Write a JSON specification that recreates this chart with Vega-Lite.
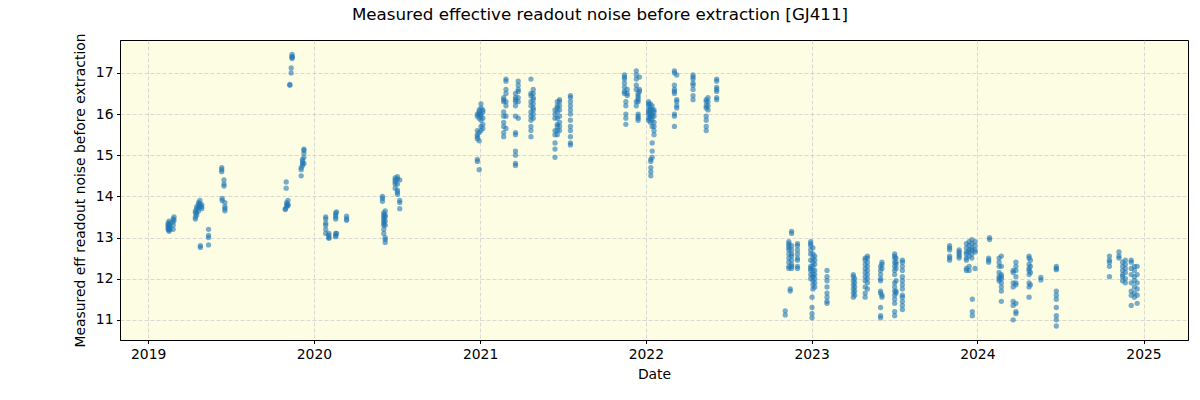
{
"$schema": "https://vega.github.io/schema/vega-lite/v6.json",
"width": 1068, "height": 300,
"autosize": {"type": "none"},
"padding": {"left": 120, "top": 40, "right": 12, "bottom": 60},
"background": "white",
"title": {"text": "Measured effective readout noise before extraction [GJ411]", "font": "DejaVu Sans", "fontSize": 16.7, "fontWeight": "normal", "color": "black", "anchor": "middle", "dx": -54, "offset": 9},
"config": {
 "view": {"fill": "#fdfde3", "stroke": "black", "strokeWidth": 1},
 "axis": {"labelFont": "DejaVu Sans", "labelFontSize": 13.9, "labelColor": "black", "titleFont": "DejaVu Sans", "titleFontSize": 13.9, "titleFontWeight": "normal", "titleColor": "black", "tickColor": "black", "tickSize": 3.5, "labelPadding": 3.5, "domainColor": "black", "gridColor": "#b0b0c0", "gridDash": [4, 2], "gridOpacity": 0.6, "gridWidth": 0.8}
},
"data": {"values": [
{"date":"2019-02-14","noise":13.35},{"date":"2019-02-14","noise":13.3},{"date":"2019-02-14","noise":13.25},{"date":"2019-02-14","noise":13.2},
{"date":"2019-02-16","noise":13.4},{"date":"2019-02-16","noise":13.3},{"date":"2019-02-16","noise":13.22},{"date":"2019-02-16","noise":13.18},{"date":"2019-02-16","noise":13.15},
{"date":"2019-02-18","noise":13.35},{"date":"2019-02-18","noise":13.28},{"date":"2019-02-18","noise":13.2},
{"date":"2019-02-25","noise":13.45},{"date":"2019-02-25","noise":13.38},{"date":"2019-02-25","noise":13.3},{"date":"2019-02-25","noise":13.2},
{"date":"2019-02-27","noise":13.5},{"date":"2019-02-27","noise":13.42},
{"date":"2019-04-15","noise":13.65},{"date":"2019-04-15","noise":13.6},{"date":"2019-04-15","noise":13.5},{"date":"2019-04-15","noise":13.45},
{"date":"2019-04-18","noise":13.75},{"date":"2019-04-18","noise":13.7},{"date":"2019-04-18","noise":13.6},{"date":"2019-04-18","noise":13.55},
{"date":"2019-04-22","noise":13.85},{"date":"2019-04-22","noise":13.8},{"date":"2019-04-22","noise":13.72},{"date":"2019-04-22","noise":13.65},
{"date":"2019-04-25","noise":13.9},{"date":"2019-04-25","noise":13.82},{"date":"2019-04-25","noise":13.75},
{"date":"2019-04-29","noise":13.8},{"date":"2019-04-29","noise":13.75},{"date":"2019-04-29","noise":13.7},
{"date":"2019-04-26","noise":12.8},{"date":"2019-04-26","noise":12.76},
{"date":"2019-05-14","noise":13.2},{"date":"2019-05-14","noise":13.05},{"date":"2019-05-14","noise":13.0},{"date":"2019-05-14","noise":12.82},
{"date":"2019-06-12","noise":14.7},{"date":"2019-06-12","noise":14.65},{"date":"2019-06-12","noise":14.6},
{"date":"2019-06-17","noise":14.4},{"date":"2019-06-17","noise":14.3},{"date":"2019-06-17","noise":14.25},
{"date":"2019-06-13","noise":13.95},{"date":"2019-06-13","noise":13.9},
{"date":"2019-06-19","noise":13.85},{"date":"2019-06-19","noise":13.75},{"date":"2019-06-19","noise":13.7},{"date":"2019-06-19","noise":13.65},
{"date":"2019-10-30","noise":13.7},{"date":"2019-10-30","noise":13.68},
{"date":"2019-11-02","noise":13.85},{"date":"2019-11-02","noise":13.8},{"date":"2019-11-02","noise":13.75},{"date":"2019-11-01","noise":14.2},{"date":"2019-11-01","noise":14.35},
{"date":"2019-11-05","noise":13.9},{"date":"2019-11-05","noise":13.8},{"date":"2019-11-05","noise":13.78},
{"date":"2019-11-09","noise":16.72},{"date":"2019-11-09","noise":16.7},
{"date":"2019-11-12","noise":17.0},{"date":"2019-11-12","noise":17.12},
{"date":"2019-11-14","noise":17.35},{"date":"2019-11-14","noise":17.4},{"date":"2019-11-14","noise":17.45},{"date":"2019-11-14","noise":17.38},
{"date":"2019-12-04","noise":14.5},{"date":"2019-12-04","noise":14.65},{"date":"2019-12-04","noise":14.7},
{"date":"2019-12-07","noise":14.75},{"date":"2019-12-07","noise":14.8},{"date":"2019-12-07","noise":14.9},{"date":"2019-12-07","noise":14.85},
{"date":"2019-12-10","noise":14.95},{"date":"2019-12-10","noise":15.05},{"date":"2019-12-10","noise":15.15},{"date":"2019-12-10","noise":15.12},{"date":"2019-12-10","noise":14.8},
{"date":"2020-01-27","noise":13.5},{"date":"2020-01-27","noise":13.45},{"date":"2020-01-27","noise":13.35},{"date":"2020-01-27","noise":13.3},{"date":"2020-01-27","noise":13.2},{"date":"2020-01-27","noise":13.1},
{"date":"2020-02-03","noise":13.1},{"date":"2020-02-03","noise":13.05},{"date":"2020-02-03","noise":13.0},{"date":"2020-02-03","noise":12.98},
{"date":"2020-02-18","noise":13.6},{"date":"2020-02-18","noise":13.55},{"date":"2020-02-18","noise":13.5},{"date":"2020-02-18","noise":13.45},{"date":"2020-02-18","noise":13.1},{"date":"2020-02-18","noise":13.05},{"date":"2020-02-18","noise":13.02},
{"date":"2020-02-20","noise":13.62},{"date":"2020-02-20","noise":13.1},
{"date":"2020-03-13","noise":13.52},{"date":"2020-03-13","noise":13.45},{"date":"2020-03-13","noise":13.42},
{"date":"2020-05-31","noise":14.0},{"date":"2020-05-31","noise":13.95},{"date":"2020-05-31","noise":13.88},
{"date":"2020-06-03","noise":13.6},{"date":"2020-06-03","noise":13.55},{"date":"2020-06-03","noise":13.5},{"date":"2020-06-03","noise":13.45},{"date":"2020-06-03","noise":13.4},{"date":"2020-06-03","noise":13.35},{"date":"2020-06-03","noise":13.3},{"date":"2020-06-03","noise":13.2},{"date":"2020-06-03","noise":13.1},
{"date":"2020-06-06","noise":13.65},{"date":"2020-06-06","noise":13.55},{"date":"2020-06-06","noise":13.5},{"date":"2020-06-06","noise":13.4},{"date":"2020-06-06","noise":13.3},{"date":"2020-06-06","noise":13.0},{"date":"2020-06-06","noise":12.95},{"date":"2020-06-06","noise":12.88},
{"date":"2020-06-28","noise":14.45},{"date":"2020-06-28","noise":14.4},{"date":"2020-06-28","noise":14.35},{"date":"2020-06-28","noise":14.3},{"date":"2020-06-28","noise":14.2},
{"date":"2020-07-03","noise":14.48},{"date":"2020-07-03","noise":14.42},{"date":"2020-07-03","noise":14.3},{"date":"2020-07-03","noise":14.15},{"date":"2020-07-03","noise":14.1},{"date":"2020-07-03","noise":14.05},
{"date":"2020-07-08","noise":14.4},{"date":"2020-07-08","noise":13.9},{"date":"2020-07-08","noise":13.85},{"date":"2020-07-08","noise":13.7},
{"date":"2020-12-26","noise":16.0},{"date":"2020-12-26","noise":15.95},{"date":"2020-12-26","noise":15.6},{"date":"2020-12-26","noise":15.5},{"date":"2020-12-26","noise":15.45},{"date":"2020-12-26","noise":15.4},{"date":"2020-12-26","noise":14.9},{"date":"2020-12-26","noise":14.85},
{"date":"2020-12-30","noise":16.1},{"date":"2020-12-30","noise":16.05},{"date":"2020-12-30","noise":16.0},{"date":"2020-12-30","noise":15.9},{"date":"2020-12-30","noise":15.55},{"date":"2020-12-30","noise":15.35},{"date":"2020-12-30","noise":14.65},
{"date":"2021-01-03","noise":16.25},{"date":"2021-01-03","noise":16.15},{"date":"2021-01-03","noise":16.0},{"date":"2021-01-03","noise":15.95},{"date":"2021-01-03","noise":15.85},{"date":"2021-01-03","noise":15.7},{"date":"2021-01-03","noise":15.6},
{"date":"2021-01-07","noise":16.1},{"date":"2021-01-07","noise":16.05},{"date":"2021-01-07","noise":15.9},{"date":"2021-01-07","noise":15.75},{"date":"2021-01-07","noise":15.65},
{"date":"2021-02-22","noise":16.4},{"date":"2021-02-22","noise":16.35},{"date":"2021-02-22","noise":16.3},{"date":"2021-02-22","noise":16.05},{"date":"2021-02-22","noise":15.95},{"date":"2021-02-22","noise":15.8},{"date":"2021-02-22","noise":15.7},{"date":"2021-02-22","noise":15.55},{"date":"2021-02-22","noise":15.45},
{"date":"2021-02-27","noise":16.85},{"date":"2021-02-27","noise":16.8},{"date":"2021-02-27","noise":16.6},{"date":"2021-02-27","noise":16.5},{"date":"2021-02-27","noise":16.3},{"date":"2021-02-27","noise":16.2},{"date":"2021-02-27","noise":15.95},{"date":"2021-02-27","noise":15.65},
{"date":"2021-03-20","noise":16.5},{"date":"2021-03-20","noise":16.4},{"date":"2021-03-20","noise":16.35},{"date":"2021-03-20","noise":16.3},{"date":"2021-03-20","noise":16.2},{"date":"2021-03-20","noise":15.95},{"date":"2021-03-20","noise":15.55},{"date":"2021-03-20","noise":15.5},{"date":"2021-03-20","noise":15.1},{"date":"2021-03-20","noise":15.0},{"date":"2021-03-20","noise":14.8},{"date":"2021-03-20","noise":14.75},
{"date":"2021-03-26","noise":16.8},{"date":"2021-03-26","noise":16.7},{"date":"2021-03-26","noise":16.6},{"date":"2021-03-26","noise":16.55},{"date":"2021-03-26","noise":16.4},{"date":"2021-03-26","noise":16.3},{"date":"2021-03-26","noise":15.9},
{"date":"2021-04-23","noise":16.85},{"date":"2021-04-23","noise":16.5},{"date":"2021-04-23","noise":16.45},{"date":"2021-04-23","noise":16.3},{"date":"2021-04-23","noise":16.2},{"date":"2021-04-23","noise":16.05},{"date":"2021-04-23","noise":15.95},{"date":"2021-04-23","noise":15.85},{"date":"2021-04-23","noise":15.7},{"date":"2021-04-23","noise":15.6},{"date":"2021-04-23","noise":15.45},
{"date":"2021-04-28","noise":16.6},{"date":"2021-04-28","noise":16.5},{"date":"2021-04-28","noise":16.4},{"date":"2021-04-28","noise":16.35},{"date":"2021-04-28","noise":16.25},{"date":"2021-04-28","noise":16.15},{"date":"2021-04-28","noise":16.1},{"date":"2021-04-28","noise":16.0},{"date":"2021-04-28","noise":15.9},
{"date":"2021-06-15","noise":16.1},{"date":"2021-06-15","noise":16.0},{"date":"2021-06-15","noise":15.9},{"date":"2021-06-15","noise":15.6},{"date":"2021-06-15","noise":15.5},{"date":"2021-06-15","noise":15.3},{"date":"2021-06-15","noise":15.15},{"date":"2021-06-15","noise":14.95},
{"date":"2021-06-20","noise":16.3},{"date":"2021-06-20","noise":16.2},{"date":"2021-06-20","noise":16.15},{"date":"2021-06-20","noise":16.05},{"date":"2021-06-20","noise":15.9},{"date":"2021-06-20","noise":15.75},{"date":"2021-06-20","noise":15.7},{"date":"2021-06-20","noise":15.6},{"date":"2021-06-20","noise":15.5},
{"date":"2021-06-25","noise":16.35},{"date":"2021-06-25","noise":16.3},{"date":"2021-06-25","noise":16.2},{"date":"2021-06-25","noise":16.1},{"date":"2021-06-25","noise":15.95},{"date":"2021-06-25","noise":15.8},{"date":"2021-06-25","noise":15.7},{"date":"2021-06-25","noise":15.6},
{"date":"2021-07-19","noise":16.45},{"date":"2021-07-19","noise":16.4},{"date":"2021-07-19","noise":16.3},{"date":"2021-07-19","noise":16.2},{"date":"2021-07-19","noise":16.1},{"date":"2021-07-19","noise":16.0},{"date":"2021-07-19","noise":15.85},{"date":"2021-07-19","noise":15.7},{"date":"2021-07-19","noise":15.6},{"date":"2021-07-19","noise":15.45},{"date":"2021-07-19","noise":15.3},{"date":"2021-07-19","noise":15.25},
{"date":"2021-11-15","noise":16.95},{"date":"2021-11-15","noise":16.9},{"date":"2021-11-15","noise":16.85},{"date":"2021-11-15","noise":16.75},{"date":"2021-11-15","noise":16.65},{"date":"2021-11-15","noise":16.55},{"date":"2021-11-15","noise":16.5},
{"date":"2021-11-18","noise":16.3},{"date":"2021-11-18","noise":16.2},{"date":"2021-11-18","noise":16.0},{"date":"2021-11-18","noise":15.9},{"date":"2021-11-18","noise":15.75},
{"date":"2021-11-21","noise":16.6},{"date":"2021-11-21","noise":16.5},{"date":"2021-11-21","noise":16.45},
{"date":"2021-12-11","noise":17.05},{"date":"2021-12-11","noise":16.95},{"date":"2021-12-11","noise":16.85},{"date":"2021-12-11","noise":16.7},{"date":"2021-12-11","noise":16.6},{"date":"2021-12-11","noise":16.3},{"date":"2021-12-11","noise":16.2},
{"date":"2021-12-15","noise":16.5},{"date":"2021-12-15","noise":16.45},{"date":"2021-12-15","noise":16.4},{"date":"2021-12-15","noise":16.35},{"date":"2021-12-15","noise":16.3},{"date":"2021-12-15","noise":16.0},{"date":"2021-12-15","noise":15.95},{"date":"2021-12-15","noise":15.9},{"date":"2021-12-15","noise":15.85},
{"date":"2021-12-18","noise":16.9},{"date":"2021-12-18","noise":16.6},{"date":"2021-12-18","noise":16.55},
{"date":"2022-01-07","noise":16.3},{"date":"2022-01-07","noise":16.25},{"date":"2022-01-07","noise":16.2},{"date":"2022-01-07","noise":16.1},{"date":"2022-01-07","noise":16.05},{"date":"2022-01-07","noise":16.0},{"date":"2022-01-07","noise":15.9},{"date":"2022-01-07","noise":15.85},
{"date":"2022-01-11","noise":16.25},{"date":"2022-01-11","noise":16.15},{"date":"2022-01-11","noise":16.1},{"date":"2022-01-11","noise":16.0},{"date":"2022-01-11","noise":15.95},{"date":"2022-01-11","noise":15.9},{"date":"2022-01-11","noise":15.8},{"date":"2022-01-12","noise":14.9},{"date":"2022-01-12","noise":14.85},{"date":"2022-01-12","noise":14.7},{"date":"2022-01-12","noise":14.6},{"date":"2022-01-12","noise":14.5},
{"date":"2022-01-15","noise":16.2},{"date":"2022-01-15","noise":16.1},{"date":"2022-01-15","noise":16.0},{"date":"2022-01-15","noise":15.95},{"date":"2022-01-15","noise":15.85},{"date":"2022-01-15","noise":15.7},{"date":"2022-01-15","noise":15.3},{"date":"2022-01-15","noise":15.1},{"date":"2022-01-15","noise":14.95},
{"date":"2022-01-19","noise":16.1},{"date":"2022-01-19","noise":16.05},{"date":"2022-01-19","noise":15.95},{"date":"2022-01-19","noise":15.8},{"date":"2022-01-19","noise":15.7},{"date":"2022-01-19","noise":15.6},{"date":"2022-01-19","noise":15.5},
{"date":"2022-03-05","noise":17.05},{"date":"2022-03-05","noise":17.0},{"date":"2022-03-05","noise":16.7},{"date":"2022-03-05","noise":16.6},{"date":"2022-03-05","noise":16.55},{"date":"2022-03-05","noise":16.5},{"date":"2022-03-05","noise":16.0},{"date":"2022-03-05","noise":15.95},{"date":"2022-03-05","noise":15.7},
{"date":"2022-03-10","noise":16.95},{"date":"2022-03-10","noise":16.35},{"date":"2022-03-10","noise":16.3},{"date":"2022-03-10","noise":16.2},{"date":"2022-03-10","noise":16.15},
{"date":"2022-04-15","noise":16.95},{"date":"2022-04-15","noise":16.9},{"date":"2022-04-15","noise":16.85},{"date":"2022-04-15","noise":16.75},{"date":"2022-04-15","noise":16.7},{"date":"2022-04-15","noise":16.6},{"date":"2022-04-15","noise":16.45},{"date":"2022-04-15","noise":16.35},
{"date":"2022-05-14","noise":16.35},{"date":"2022-05-14","noise":16.3},{"date":"2022-05-14","noise":16.2},{"date":"2022-05-14","noise":16.15},{"date":"2022-05-14","noise":15.95},{"date":"2022-05-14","noise":15.85},{"date":"2022-05-14","noise":15.7},{"date":"2022-05-14","noise":15.6},
{"date":"2022-05-18","noise":16.4},{"date":"2022-05-18","noise":16.3},{"date":"2022-05-18","noise":16.2},{"date":"2022-05-18","noise":16.1},
{"date":"2022-06-06","noise":16.85},{"date":"2022-06-06","noise":16.8},{"date":"2022-06-06","noise":16.65},{"date":"2022-06-06","noise":16.6},{"date":"2022-06-06","noise":16.55},{"date":"2022-06-06","noise":16.4},{"date":"2022-06-06","noise":16.35},
{"date":"2022-11-04","noise":11.22},{"date":"2022-11-04","noise":11.12},
{"date":"2022-11-12","noise":12.9},{"date":"2022-11-12","noise":12.85},{"date":"2022-11-12","noise":12.8},{"date":"2022-11-12","noise":12.75},{"date":"2022-11-12","noise":12.7},{"date":"2022-11-12","noise":12.6},{"date":"2022-11-12","noise":12.5},{"date":"2022-11-12","noise":12.4},{"date":"2022-11-12","noise":12.3},{"date":"2022-11-12","noise":12.25},{"date":"2022-11-15","noise":11.75},{"date":"2022-11-15","noise":11.7},
{"date":"2022-11-18","noise":13.15},{"date":"2022-11-18","noise":13.1},{"date":"2022-11-18","noise":12.8},{"date":"2022-11-18","noise":12.7},{"date":"2022-11-18","noise":12.6},{"date":"2022-11-18","noise":12.55},{"date":"2022-11-18","noise":12.45},{"date":"2022-11-18","noise":12.35},{"date":"2022-11-18","noise":12.3},{"date":"2022-11-18","noise":12.25},
{"date":"2022-12-01","noise":12.85},{"date":"2022-12-01","noise":12.8},{"date":"2022-12-01","noise":12.7},{"date":"2022-12-01","noise":12.6},{"date":"2022-12-01","noise":12.5},{"date":"2022-12-01","noise":12.45},{"date":"2022-12-01","noise":12.3},{"date":"2022-12-01","noise":12.25},
{"date":"2022-12-30","noise":12.9},{"date":"2022-12-30","noise":12.85},{"date":"2022-12-30","noise":12.8},{"date":"2022-12-30","noise":12.7},{"date":"2022-12-30","noise":12.6},{"date":"2022-12-30","noise":12.45},{"date":"2022-12-30","noise":12.3},{"date":"2022-12-30","noise":12.25},{"date":"2022-12-30","noise":12.2},{"date":"2022-12-30","noise":12.1},{"date":"2022-12-30","noise":12.0},
{"date":"2023-01-04","noise":12.75},{"date":"2023-01-04","noise":12.6},{"date":"2023-01-04","noise":12.5},{"date":"2023-01-04","noise":12.4},{"date":"2023-01-04","noise":12.3},{"date":"2023-01-04","noise":12.2},{"date":"2023-01-04","noise":12.1},{"date":"2023-01-04","noise":12.05},{"date":"2023-01-04","noise":11.95},{"date":"2023-01-04","noise":11.85},{"date":"2023-01-04","noise":11.75},{"date":"2023-01-02","noise":11.55},{"date":"2023-01-02","noise":11.3},{"date":"2023-01-02","noise":11.15},{"date":"2023-01-02","noise":11.05},
{"date":"2023-01-08","noise":12.55},{"date":"2023-01-08","noise":12.45},{"date":"2023-01-08","noise":12.35},{"date":"2023-01-08","noise":12.2},{"date":"2023-01-08","noise":12.1},{"date":"2023-01-08","noise":12.0},{"date":"2023-01-08","noise":11.9},{"date":"2023-01-08","noise":11.8},
{"date":"2023-02-04","noise":12.2},{"date":"2023-02-04","noise":12.05},{"date":"2023-02-04","noise":11.95},{"date":"2023-02-04","noise":11.8},{"date":"2023-02-04","noise":11.65},{"date":"2023-02-04","noise":11.55},{"date":"2023-02-04","noise":11.45},{"date":"2023-02-04","noise":11.4},
{"date":"2023-04-03","noise":12.1},{"date":"2023-04-03","noise":12.05},{"date":"2023-04-03","noise":11.95},{"date":"2023-04-03","noise":11.85},{"date":"2023-04-03","noise":11.75},{"date":"2023-04-03","noise":11.65},{"date":"2023-04-03","noise":11.55},
{"date":"2023-04-06","noise":12.0},{"date":"2023-04-06","noise":11.9},{"date":"2023-04-06","noise":11.8},{"date":"2023-04-06","noise":11.7},{"date":"2023-04-06","noise":11.6},
{"date":"2023-04-29","noise":12.5},{"date":"2023-04-29","noise":12.45},{"date":"2023-04-29","noise":12.35},{"date":"2023-04-29","noise":12.25},{"date":"2023-04-29","noise":12.15},{"date":"2023-04-29","noise":12.05},{"date":"2023-04-29","noise":11.95},{"date":"2023-04-29","noise":11.8},{"date":"2023-04-29","noise":11.65},{"date":"2023-04-29","noise":11.55},
{"date":"2023-05-04","noise":12.55},{"date":"2023-05-04","noise":12.5},{"date":"2023-05-04","noise":12.4},{"date":"2023-05-04","noise":12.3},{"date":"2023-05-04","noise":12.2},{"date":"2023-05-04","noise":12.1},{"date":"2023-05-04","noise":12.0},{"date":"2023-05-04","noise":11.9},{"date":"2023-05-04","noise":11.75},
{"date":"2023-06-02","noise":12.3},{"date":"2023-06-02","noise":12.2},{"date":"2023-06-02","noise":12.1},{"date":"2023-06-02","noise":12.0},{"date":"2023-06-02","noise":11.95},{"date":"2023-06-02","noise":11.7},{"date":"2023-06-02","noise":11.65},{"date":"2023-06-02","noise":11.3},{"date":"2023-06-02","noise":11.1},{"date":"2023-06-02","noise":11.05},
{"date":"2023-06-05","noise":12.4},{"date":"2023-06-05","noise":12.35},{"date":"2023-06-05","noise":12.25},{"date":"2023-06-05","noise":11.6},{"date":"2023-06-05","noise":11.55},
{"date":"2023-07-03","noise":12.6},{"date":"2023-07-03","noise":12.55},{"date":"2023-07-03","noise":12.5},{"date":"2023-07-03","noise":12.4},{"date":"2023-07-03","noise":12.3},{"date":"2023-07-03","noise":12.2},{"date":"2023-07-03","noise":12.1},{"date":"2023-07-03","noise":11.9},{"date":"2023-07-03","noise":11.8},{"date":"2023-07-03","noise":11.7},{"date":"2023-07-03","noise":11.6},{"date":"2023-07-03","noise":11.5},{"date":"2023-07-03","noise":11.4},{"date":"2023-07-03","noise":11.2},{"date":"2023-07-03","noise":11.1},
{"date":"2023-07-06","noise":12.5},{"date":"2023-07-06","noise":12.4},{"date":"2023-07-06","noise":12.35},{"date":"2023-07-06","noise":12.25},{"date":"2023-07-06","noise":11.95},{"date":"2023-07-06","noise":11.7},{"date":"2023-07-06","noise":11.65},
{"date":"2023-07-20","noise":12.45},{"date":"2023-07-20","noise":12.4},{"date":"2023-07-20","noise":12.3},{"date":"2023-07-20","noise":12.2},{"date":"2023-07-20","noise":12.05},{"date":"2023-07-20","noise":11.95},{"date":"2023-07-20","noise":11.85},{"date":"2023-07-20","noise":11.75},{"date":"2023-07-20","noise":11.6},{"date":"2023-07-20","noise":11.55},{"date":"2023-07-20","noise":11.45},{"date":"2023-07-20","noise":11.35},{"date":"2023-07-20","noise":11.25},
{"date":"2023-11-01","noise":12.8},{"date":"2023-11-01","noise":12.75},{"date":"2023-11-01","noise":12.7},{"date":"2023-11-01","noise":12.55},{"date":"2023-11-01","noise":12.5},{"date":"2023-11-01","noise":12.45},
{"date":"2023-11-22","noise":12.7},{"date":"2023-11-22","noise":12.65},{"date":"2023-11-22","noise":12.6},{"date":"2023-11-22","noise":12.55},{"date":"2023-11-22","noise":12.5},
{"date":"2023-12-08","noise":12.85},{"date":"2023-12-08","noise":12.75},{"date":"2023-12-08","noise":12.65},{"date":"2023-12-08","noise":12.6},{"date":"2023-12-08","noise":12.5},{"date":"2023-12-08","noise":12.45},{"date":"2023-12-08","noise":12.25},{"date":"2023-12-08","noise":12.2},
{"date":"2023-12-14","noise":12.9},{"date":"2023-12-14","noise":12.8},{"date":"2023-12-14","noise":12.7},{"date":"2023-12-14","noise":12.65},{"date":"2023-12-14","noise":12.55},{"date":"2023-12-14","noise":12.3},{"date":"2023-12-14","noise":12.2},
{"date":"2023-12-20","noise":12.95},{"date":"2023-12-20","noise":12.85},{"date":"2023-12-20","noise":12.75},{"date":"2023-12-20","noise":12.7},{"date":"2023-12-20","noise":12.6},{"date":"2023-12-20","noise":12.5},{"date":"2023-12-21","noise":11.5},{"date":"2023-12-21","noise":11.2},{"date":"2023-12-21","noise":11.1},
{"date":"2023-12-27","noise":12.9},{"date":"2023-12-27","noise":12.8},{"date":"2023-12-27","noise":12.7},{"date":"2023-12-27","noise":12.65},{"date":"2023-12-27","noise":12.25},
{"date":"2024-01-28","noise":13.0},{"date":"2024-01-28","noise":12.95},{"date":"2024-01-26","noise":12.5},{"date":"2024-01-26","noise":12.45},{"date":"2024-01-26","noise":12.4},
{"date":"2024-02-18","noise":12.5},{"date":"2024-02-18","noise":12.4},{"date":"2024-02-18","noise":12.3},{"date":"2024-02-18","noise":12.15},{"date":"2024-02-18","noise":12.05},{"date":"2024-02-18","noise":12.0},{"date":"2024-02-18","noise":11.95},
{"date":"2024-02-23","noise":12.55},{"date":"2024-02-23","noise":12.3},{"date":"2024-02-23","noise":12.1},{"date":"2024-02-23","noise":12.05},{"date":"2024-02-23","noise":12.0},{"date":"2024-02-23","noise":11.9},{"date":"2024-02-23","noise":11.8},{"date":"2024-02-23","noise":11.7},{"date":"2024-02-23","noise":11.45},
{"date":"2024-03-20","noise":12.2},{"date":"2024-03-20","noise":12.15},{"date":"2024-03-20","noise":11.9},{"date":"2024-03-20","noise":11.8},{"date":"2024-03-20","noise":11.45},{"date":"2024-03-20","noise":11.35},{"date":"2024-03-20","noise":11.0},
{"date":"2024-03-26","noise":12.4},{"date":"2024-03-26","noise":12.3},{"date":"2024-03-26","noise":12.2},{"date":"2024-03-26","noise":12.05},{"date":"2024-03-26","noise":11.9},{"date":"2024-03-26","noise":11.85},{"date":"2024-03-26","noise":11.4},{"date":"2024-03-26","noise":11.2},{"date":"2024-03-26","noise":11.15},
{"date":"2024-04-24","noise":12.55},{"date":"2024-04-24","noise":12.5},{"date":"2024-04-24","noise":12.35},{"date":"2024-04-24","noise":12.25},{"date":"2024-04-24","noise":12.2},{"date":"2024-04-24","noise":12.1},{"date":"2024-04-24","noise":11.9},{"date":"2024-04-24","noise":11.8},{"date":"2024-04-24","noise":11.55},
{"date":"2024-04-27","noise":12.45},{"date":"2024-04-27","noise":12.3},{"date":"2024-04-27","noise":12.15},{"date":"2024-04-27","noise":11.85},
{"date":"2024-05-20","noise":12.03},{"date":"2024-05-20","noise":11.97},
{"date":"2024-06-23","noise":12.3},{"date":"2024-06-23","noise":12.25},{"date":"2024-06-23","noise":12.22},{"date":"2024-06-23","noise":11.7},{"date":"2024-06-23","noise":11.6},{"date":"2024-06-23","noise":11.5},{"date":"2024-06-23","noise":11.3},{"date":"2024-06-23","noise":11.1},{"date":"2024-06-23","noise":11.0},{"date":"2024-06-23","noise":10.85},
{"date":"2024-10-18","noise":12.55},{"date":"2024-10-18","noise":12.45},{"date":"2024-10-18","noise":12.4},{"date":"2024-10-18","noise":12.3},{"date":"2024-10-18","noise":12.05},
{"date":"2024-11-08","noise":12.65},{"date":"2024-11-08","noise":12.55},{"date":"2024-11-08","noise":12.5},
{"date":"2024-11-16","noise":12.4},{"date":"2024-11-16","noise":12.3},{"date":"2024-11-16","noise":12.2},{"date":"2024-11-16","noise":12.1},{"date":"2024-11-16","noise":12.05},{"date":"2024-11-16","noise":11.95},
{"date":"2024-11-22","noise":12.45},{"date":"2024-11-22","noise":12.35},{"date":"2024-11-22","noise":12.25},{"date":"2024-11-22","noise":12.15},{"date":"2024-11-22","noise":12.0},{"date":"2024-11-22","noise":11.9},
{"date":"2024-12-05","noise":12.45},{"date":"2024-12-05","noise":12.4},{"date":"2024-12-05","noise":12.25},{"date":"2024-12-05","noise":12.1},{"date":"2024-12-05","noise":11.9},{"date":"2024-12-05","noise":11.7},{"date":"2024-12-05","noise":11.6},{"date":"2024-12-05","noise":11.35},
{"date":"2024-12-12","noise":12.3},{"date":"2024-12-12","noise":12.2},{"date":"2024-12-12","noise":12.05},{"date":"2024-12-12","noise":11.95},{"date":"2024-12-12","noise":11.8},{"date":"2024-12-12","noise":11.65},{"date":"2024-12-12","noise":11.55},
{"date":"2024-12-18","noise":12.3},{"date":"2024-12-18","noise":12.1},{"date":"2024-12-18","noise":11.9},{"date":"2024-12-18","noise":11.75},{"date":"2024-12-18","noise":11.6},{"date":"2024-12-18","noise":11.4}
]},
"mark": {"type": "circle", "size": 28, "opacity": 0.6, "color": "#1f77b4"},
"encoding": {
 "x": {"field": "date", "type": "temporal", "title": "Date", "scale": {"domain": ["2018-10-31", "2025-04-09"], "nice": false}, "axis": {"format": "%Y", "tickCount": {"interval": "year", "step": 1}, "labelAngle": 0, "titlePadding": 7}},
 "y": {"field": "noise", "type": "quantitative", "title": "Measured eff readout noise before extraction", "scale": {"domain": [10.51, 17.8], "nice": false, "zero": false}, "axis": {"values": [11, 12, 13, 14, 15, 16, 17], "titlePadding": 8}}
}
}
